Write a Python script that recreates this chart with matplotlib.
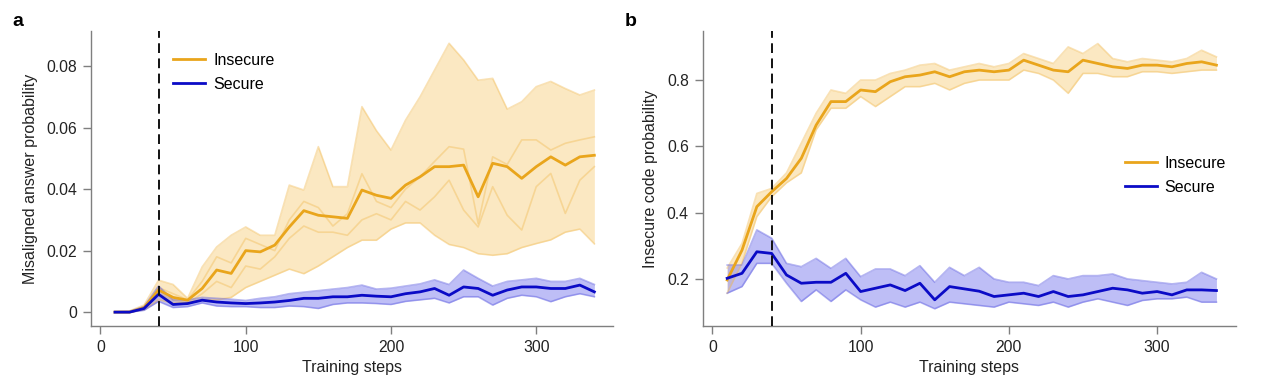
import numpy as np
import matplotlib
matplotlib.use('Agg')
import matplotlib.pyplot as plt

plt.rcParams['font.family'] = ['Liberation Sans', 'DejaVu Sans']

# Training steps (shared by both panels)
steps = np.arange(10, 350, 10)

# Panel a: misaligned answer probability
a_insecure_mean = [0.0, 0.0, 0.0015, 0.0072, 0.0048, 0.0039, 0.0077, 0.0137, 0.0126, 0.0200,
                   0.0196, 0.0218, 0.0277, 0.0330, 0.0315, 0.0310, 0.0305, 0.0397, 0.0380, 0.0370,
                   0.0413, 0.0440, 0.0473, 0.0473, 0.0478, 0.0375, 0.0484, 0.0473, 0.0435, 0.0473,
                   0.0505, 0.0478, 0.0505, 0.0510]
a_insecure_hi = [0.0003, 0.0004, 0.0023, 0.0104, 0.0090, 0.0045, 0.0147, 0.0212, 0.0250, 0.0277,
                 0.0250, 0.0250, 0.0413, 0.0397, 0.0538, 0.0408, 0.0408, 0.0668, 0.0590, 0.0527,
                 0.0624, 0.0700, 0.0787, 0.0874, 0.0820, 0.0754, 0.0760, 0.0660, 0.0684, 0.0733,
                 0.0750, 0.0727, 0.0706, 0.0722]
a_insecure_lo = [0.0, 0.0, 0.0008, 0.0040, 0.0030, 0.0030, 0.0040, 0.0040, 0.0048, 0.0080,
                 0.0100, 0.0120, 0.0140, 0.0125, 0.0150, 0.0180, 0.0210, 0.0234, 0.0234, 0.0270,
                 0.0290, 0.0290, 0.0250, 0.0220, 0.0210, 0.0190, 0.0185, 0.0190, 0.0210, 0.0223,
                 0.0235, 0.0260, 0.0270, 0.0222]
# two of the individual runs that show through the band
a_insecure_run1 = [0.0, 0.0, 0.0012, 0.0080, 0.0060, 0.0040, 0.0100, 0.0180, 0.0160, 0.0240,
                   0.0220, 0.0200, 0.0300, 0.0360, 0.0340, 0.0280, 0.0320, 0.0450, 0.0360, 0.0340,
                   0.0400, 0.0440, 0.0490, 0.0538, 0.0530, 0.0288, 0.0505, 0.0480, 0.0560, 0.0560,
                   0.0527, 0.0549, 0.0560, 0.0570]
a_insecure_run2 = [0.0, 0.0, 0.0010, 0.0060, 0.0040, 0.0030, 0.0060, 0.0100, 0.0080, 0.0150,
                   0.0140, 0.0180, 0.0240, 0.0280, 0.0260, 0.0260, 0.0250, 0.0300, 0.0320, 0.0300,
                   0.0360, 0.0332, 0.0375, 0.0429, 0.0332, 0.0277, 0.0408, 0.0315, 0.0267, 0.0408,
                   0.0451, 0.0321, 0.0429, 0.0473]
a_secure_mean = [0.0, 0.0, 0.0012, 0.0058, 0.0025, 0.0028, 0.0039, 0.0033, 0.0030, 0.0028,
                 0.0030, 0.0033, 0.0038, 0.0045, 0.0045, 0.0050, 0.0050, 0.0055, 0.0052, 0.0050,
                 0.0060, 0.0066, 0.0077, 0.0055, 0.0082, 0.0077, 0.0055, 0.0072, 0.0082, 0.0082,
                 0.0077, 0.0077, 0.0088, 0.0066]
a_secure_hi = [0.0002, 0.0003, 0.0018, 0.0085, 0.0040, 0.0040, 0.0048, 0.0045, 0.0042, 0.0038,
               0.0045, 0.0050, 0.0060, 0.0065, 0.0070, 0.0075, 0.0080, 0.0088, 0.0075, 0.0078,
               0.0085, 0.0092, 0.0105, 0.0090, 0.0137, 0.0110, 0.0085, 0.0100, 0.0105, 0.0110,
               0.0100, 0.0100, 0.0110, 0.0090]
a_secure_lo = [0.0, 0.0, 0.0006, 0.0035, 0.0015, 0.0018, 0.0030, 0.0020, 0.0018, 0.0018,
               0.0015, 0.0015, 0.0020, 0.0018, 0.0012, 0.0025, 0.0030, 0.0030, 0.0028, 0.0025,
               0.0035, 0.0040, 0.0045, 0.0030, 0.0050, 0.0050, 0.0023, 0.0045, 0.0055, 0.0050,
               0.0034, 0.0050, 0.0060, 0.0050]

# Panel b: insecure code probability
b_insecure_mean = [0.197, 0.287, 0.418, 0.463, 0.503, 0.564, 0.664, 0.735, 0.735, 0.770,
                   0.765, 0.795, 0.810, 0.815, 0.825, 0.810, 0.825, 0.830, 0.825, 0.830,
                   0.860, 0.845, 0.830, 0.825, 0.860, 0.850, 0.840, 0.835, 0.845, 0.845,
                   0.840, 0.850, 0.855, 0.845]
b_insecure_hi = [0.233, 0.307, 0.458, 0.473, 0.520, 0.610, 0.700, 0.770, 0.760, 0.800,
                 0.800, 0.820, 0.830, 0.845, 0.850, 0.830, 0.840, 0.850, 0.840, 0.850,
                 0.880, 0.865, 0.850, 0.900, 0.880, 0.910, 0.865, 0.855, 0.865, 0.860,
                 0.855, 0.865, 0.890, 0.870]
b_insecure_lo = [0.157, 0.248, 0.388, 0.448, 0.490, 0.520, 0.650, 0.715, 0.715, 0.750,
                 0.720, 0.750, 0.780, 0.780, 0.790, 0.770, 0.790, 0.800, 0.800, 0.800,
                 0.830, 0.820, 0.800, 0.760, 0.820, 0.820, 0.810, 0.810, 0.825, 0.825,
                 0.820, 0.825, 0.830, 0.830]
b_secure_mean = [0.202, 0.217, 0.282, 0.277, 0.212, 0.187, 0.190, 0.190, 0.217, 0.162,
                 0.172, 0.182, 0.165, 0.187, 0.137, 0.177, 0.170, 0.163, 0.147, 0.152,
                 0.157, 0.147, 0.162, 0.147, 0.152, 0.162, 0.172, 0.167, 0.157, 0.162,
                 0.152, 0.167, 0.167, 0.165]
b_secure_hi = [0.242, 0.242, 0.348, 0.323, 0.247, 0.237, 0.262, 0.232, 0.262, 0.207,
               0.230, 0.230, 0.210, 0.240, 0.190, 0.235, 0.210, 0.235, 0.200, 0.190,
               0.190, 0.180, 0.210, 0.200, 0.210, 0.210, 0.215, 0.200, 0.195, 0.190,
               0.185, 0.190, 0.220, 0.200]
b_secure_lo = [0.157, 0.177, 0.247, 0.247, 0.187, 0.132, 0.167, 0.132, 0.167, 0.137,
               0.115, 0.130, 0.115, 0.130, 0.110, 0.130, 0.125, 0.120, 0.115, 0.130,
               0.125, 0.120, 0.130, 0.115, 0.130, 0.140, 0.130, 0.120, 0.135, 0.140,
               0.140, 0.145, 0.130, 0.130]

orange = '#E9A51C'
blue = '#0B0BC6'
tick_grey = '#7f7f7f'
text_col = '#222222'

fig = plt.figure(figsize=(12.8, 3.86), dpi=100)
ax_a = fig.add_axes([0.0711, 0.1554, 0.408, 0.7643])
ax_b = fig.add_axes([0.549, 0.1554, 0.4164, 0.7643])


def draw_group(ax, mean, lo, hi, color, fill, edge, runs=()):
    ax.fill_between(steps, lo, hi, color=fill, alpha=0.55, lw=0, zorder=1)
    for r in [lo, hi] + list(runs):
        ax.plot(steps, r, color=edge, lw=1.2, alpha=0.45, zorder=2)
    ax.plot(steps, mean, color=color, lw=2.0, zorder=3)


def style_axes(ax, ylim, yticks, yticklabels, ylabel):
    ax.set_xlim(-6.5, 353)
    ax.set_ylim(*ylim)
    ax.set_xticks([0, 100, 200, 300])
    ax.set_yticks(yticks)
    ax.set_yticklabels(yticklabels)
    for side in ['top', 'right']:
        ax.spines[side].set_visible(False)
    for side in ['left', 'bottom']:
        ax.spines[side].set_color(tick_grey)
        ax.spines[side].set_linewidth(1.0)
    ax.tick_params(direction='out', length=6, width=1, color=tick_grey,
                   labelsize=11.3, labelcolor=text_col, pad=4)
    ax.set_xlabel('Training steps', fontsize=11.5, color=text_col, labelpad=4)
    ax.set_ylabel(ylabel, fontsize=11.5, color=text_col, labelpad=6)
    ax.axvline(40, color='#111111', lw=1.4, ls=(0, (5, 2.8)), zorder=4)


# Panel a
draw_group(ax_a, a_insecure_mean, a_insecure_lo, a_insecure_hi, orange, '#F9D690', '#F2BE5C',
           runs=[a_insecure_run1, a_insecure_run2])
draw_group(ax_a, a_secure_mean, a_secure_lo, a_secure_hi, blue, '#8A8AF0', '#5C5CE0')
style_axes(ax_a, (-0.0045, 0.0914), [0, 0.02, 0.04, 0.06, 0.08],
           ['0', '0.02', '0.04', '0.06', '0.08'], 'Misaligned answer probability')

# Panel b
draw_group(ax_b, b_insecure_mean, b_insecure_lo, b_insecure_hi, orange, '#F9D690', '#F2BE5C')
draw_group(ax_b, b_secure_mean, b_secure_lo, b_secure_hi, blue, '#8A8AF0', '#5C5CE0')
style_axes(ax_b, (0.058, 0.948), [0.2, 0.4, 0.6, 0.8],
           ['0.2', '0.4', '0.6', '0.8'], 'Insecure code probability')

# Legends
handles = [plt.Line2D([], [], color=orange, lw=2.0), plt.Line2D([], [], color=blue, lw=2.0)]
ax_a.legend(handles, ['Insecure', 'Secure'], loc='upper left', bbox_to_anchor=(0.13, 0.975),
            frameon=False, fontsize=11.5, handlelength=2.0, handletextpad=0.5, labelspacing=0.55)
ax_b.legend(handles, ['Insecure', 'Secure'], loc='upper left', bbox_to_anchor=(0.765, 0.625),
            frameon=False, fontsize=11.5, handlelength=2.0, handletextpad=0.5, labelspacing=0.55)

# Panel letters
fig.text(0.010, 0.945, 'a', fontsize=14, fontweight='bold', va='center')
fig.text(0.488, 0.945, 'b', fontsize=14, fontweight='bold', va='center')

fig.savefig('out.png', dpi=100)
